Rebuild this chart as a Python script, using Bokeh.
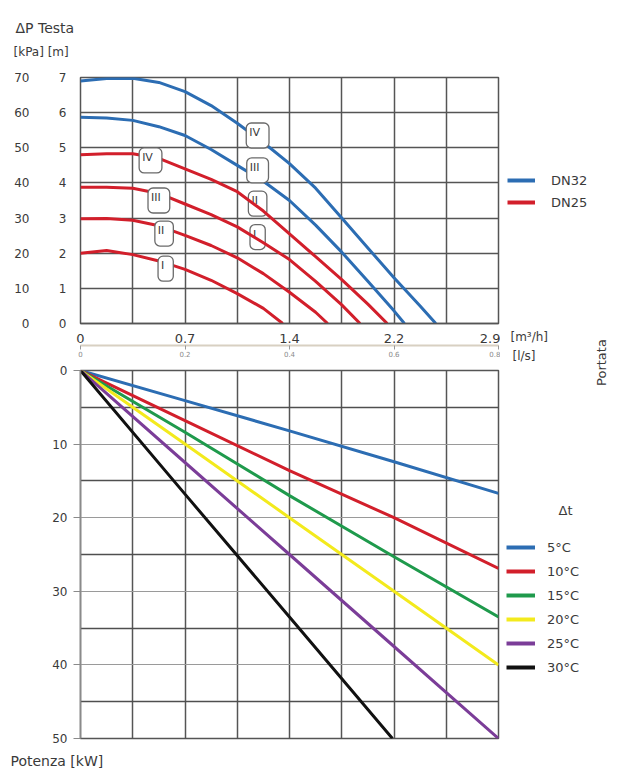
import math
from bokeh.plotting import figure
from bokeh.models import (Range1d, LinearAxis, FixedTicker, Legend, LegendItem, Label)
from bokeh.layouts import column, row
from bokeh.embed import file_html
from bokeh.resources import INLINE
from bokeh.core.properties import value

FONT = "DejaVu Sans"
TXT = "#3a3a3a"
GRID = "#555555"
NAN = float("nan")

# ---------------- data: pump curves (flow in l/s, head in kPa) ----------------
blue_iv_q = [0, 0.05, 0.10, 0.15, 0.20, 0.25, 0.30, 0.35, 0.40, 0.45, 0.50, 0.55, 0.60, 0.65, 0.68]
blue_iv_dp = [69.0, 69.7, 69.8, 68.6, 66.0, 62.0, 57.0, 51.5, 45.5, 38.5, 30.0, 21.5, 13.0, 5.0, 0.0]

blue_iii_q = [0, 0.05, 0.10, 0.15, 0.20, 0.25, 0.30, 0.35, 0.40, 0.45, 0.50, 0.55, 0.60, 0.62]
blue_iii_dp = [58.7, 58.5, 57.8, 56.0, 53.5, 49.5, 45.0, 40.5, 35.0, 28.0, 20.3, 12.0, 3.6, 0.0]

red_iv_q = [0, 0.05, 0.10, 0.15, 0.20, 0.25, 0.30, 0.35, 0.40, 0.45, 0.50, 0.55, 0.587]
red_iv_dp = [48.0, 48.3, 48.3, 47.0, 44.0, 41.0, 37.5, 32.0, 25.5, 19.0, 12.5, 5.5, 0.0]

red_iii_q = [0, 0.05, 0.10, 0.15, 0.20, 0.25, 0.30, 0.35, 0.40, 0.45, 0.50, 0.535]
red_iii_dp = [38.8, 38.8, 38.5, 37.0, 34.0, 31.0, 27.5, 23.0, 18.2, 12.0, 5.3, 0.0]

red_ii_q = [0, 0.05, 0.10, 0.15, 0.20, 0.25, 0.30, 0.35, 0.40, 0.45, 0.473]
red_ii_dp = [29.8, 29.9, 29.4, 27.8, 25.1, 22.2, 18.7, 14.2, 8.9, 3.2, 0.0]

red_i_q = [0, 0.05, 0.10, 0.15, 0.20, 0.25, 0.30, 0.35, 0.387]
red_i_dp = [20.0, 20.8, 19.6, 17.8, 15.4, 12.3, 8.5, 4.3, 0.0]

# curve labels (speed steps)
red_lab_txt = ["IV", "III", "II", "I"]
red_lab_q = [0.134, 0.150, 0.160, 0.163]
red_lab_dp = [46.4, 35.0, 25.6, 15.6]
blue_lab_txt = ["IV", "III", "II", "I"]
blue_lab_q = [0.339, 0.339, 0.339, 0.339]
blue_lab_dp = [53.5, 43.6, 34.1, 24.6]

# ---------------- data: power vs flow per delta-t ----------------
flow_ls = [0, 0.2, 0.4, 0.6, 0.8]
p_5 = [0, 4.1, 8.2, 12.4, 16.7]
p_10 = [0, 6.8, 13.6, 20.0, 26.9]
p_15 = [0, 8.4, 17.0, 25.3, 33.5]
p_20 = [0, 10.0, 20.0, 30.0, 40.0]
p_25 = [0, 12.5, 25.0, 37.5, 50.0]
flow_30 = [0, 0.2, 0.4, 0.597]
p_30 = [0, 16.8, 33.5, 50.0]
dt_labels = ["5°C", "10°C", "15°C", "20°C", "25°C", "30°C"]
pipe_labels = ["DN32", "DN25"]

# ---------------- axes ticks ----------------
ls_ticks = [0, 0.2, 0.4, 0.6, 0.8]
m3h_labels = ["0", "0.7", "1.4", "2.2", "2.9"]
kpa_ticks = [0, 10, 20, 30, 40, 50, 60, 70]
m_ticks = [0, 1, 2, 3, 4, 5, 6, 7]
kw_ticks = [0, 10, 20, 30, 40, 50]
x_grid = [0.1, 0.2, 0.3, 0.4, 0.5, 0.6, 0.7]

BLUE = "#2c6db3"
RED = "#d21f2b"
DT_COLORS = ["#2c6db3", "#d21f2b", "#1f9a4c", "#f3ea1d", "#7b3d98", "#111111"]

MAIN_W = 500
LEFT = 80


def blank(width, height):
    f = figure(width=width, height=height, x_range=Range1d(0, width), y_range=Range1d(height, 0),
               x_axis_location=None, y_axis_location=None, toolbar_location=None,
               output_backend="svg", min_border=0, outline_line_color=None,
               background_fill_color="white", border_fill_color="white",
               frame_align=False)
    f.grid.visible = False
    return f


lab_kw = dict(text_font=FONT, text_color=TXT, text_baseline="middle")


def style_axis(ax, size="12px", color=TXT):
    ax.major_label_text_font = FONT
    ax.major_label_text_font_size = size
    ax.major_label_text_color = color
    ax.minor_tick_line_color = None


# ================= header =================
header = blank(MAIN_W, 68)
header.add_layout(Label(x=15, y=27, text="ΔP Testa", text_font_size="14px", **lab_kw))
header.add_layout(Label(x=13, y=51, text="[kPa] [m]", text_font_size="12px", **lab_kw))

# ================= TOP CHART =================
top = figure(frame_width=418, frame_height=246, x_range=Range1d(0, 0.8), y_range=Range1d(0, 70),
             x_axis_location=None, y_axis_location=None, toolbar_location=None,
             output_backend="svg", min_border_left=LEFT, min_border_right=2,
             min_border_top=9, min_border_bottom=39,
             outline_line_color=GRID, outline_line_width=1.5,
             background_fill_color="white", border_fill_color="white")
top.extra_y_ranges = {"m": Range1d(0, 7)}

top.xgrid.ticker = FixedTicker(ticks=x_grid)
top.ygrid.ticker = FixedTicker(ticks=kpa_ticks[1:-1])
top.grid.grid_line_color = GRID
top.grid.grid_line_width = 1.5

m_axis = LinearAxis(y_range_name="m", ticker=FixedTicker(ticks=m_ticks),
                    axis_line_color=None, major_tick_line_color=None,
                    major_tick_out=0, major_tick_in=0, major_label_standoff=14)
style_axis(m_axis)
top.add_layout(m_axis, "left")

kpa_axis = LinearAxis(ticker=FixedTicker(ticks=kpa_ticks),
                      axis_line_color=None, major_tick_line_color=None,
                      major_tick_out=0, major_tick_in=0, major_label_standoff=26)
style_axis(kpa_axis)
top.add_layout(kpa_axis, "left")

m3h_axis = LinearAxis(ticker=FixedTicker(ticks=ls_ticks),
                      major_label_overrides={t: l for t, l in zip(ls_ticks, m3h_labels)},
                      axis_line_color=GRID, axis_line_width=1.5,
                      major_tick_line_color=None, major_tick_out=0, major_tick_in=0,
                      major_label_standoff=10)
style_axis(m3h_axis, "13px")
top.add_layout(m3h_axis, "below")

ls_axis = LinearAxis(ticker=FixedTicker(ticks=ls_ticks),
                     axis_line_color="#d8d0c2", axis_line_width=2,
                     major_tick_line_color="#999999", major_tick_out=4, major_tick_in=0,
                     major_label_standoff=1)
style_axis(ls_axis, "7px", "#8a8a8a")
top.add_layout(ls_axis, "below")

top.line(blue_iv_q, blue_iv_dp, line_color=BLUE, line_width=3)
top.line(blue_iii_q, blue_iii_dp, line_color=BLUE, line_width=3)

box_kw = dict(text_font=value(FONT), text_font_size="11px", text_align="center",
              text_baseline="middle", text_color=TXT, background_fill_color="white",
              border_line_color="#6a6a6a", border_line_width=1.3,
              padding=(3, 9, 3, 9), border_radius=5)
top.text(x=blue_lab_q, y=blue_lab_dp, text=blue_lab_txt, **box_kw)

top.line(red_iv_q, red_iv_dp, line_color=RED, line_width=3)
top.line(red_iii_q, red_iii_dp, line_color=RED, line_width=3)
top.line(red_ii_q, red_ii_dp, line_color=RED, line_width=3)
top.line(red_i_q, red_i_dp, line_color=RED, line_width=3)
top.text(x=red_lab_q, y=red_lab_dp, text=red_lab_txt, **box_kw)

# ================= BOTTOM CHART =================
bot = figure(frame_width=418, frame_height=368, x_range=Range1d(0, 0.8), y_range=Range1d(50, 0),
             x_axis_location=None, y_axis_location="left", toolbar_location=None,
             output_backend="svg", min_border_left=LEFT, min_border_right=2,
             min_border_top=8, min_border_bottom=7,
             outline_line_color=GRID, outline_line_width=1.5,
             background_fill_color="white", border_fill_color="white")
bot.xgrid.ticker = FixedTicker(ticks=x_grid)
bot.xgrid.grid_line_color = GRID
bot.xgrid.grid_line_width = 1.5
bot.ygrid.ticker = FixedTicker(ticks=kw_ticks[1:-1], minor_ticks=[5, 15, 25, 35, 45])
bot.ygrid.grid_line_color = "#9a9a9a"
bot.ygrid.grid_line_width = 1.2
bot.ygrid.minor_grid_line_color = "#4f4f4f"
bot.ygrid.minor_grid_line_width = 1.6

bot.yaxis.ticker = FixedTicker(ticks=kw_ticks)
bot.yaxis.axis_line_color = "#8a8a8a"
bot.yaxis.axis_line_width = 1.5
bot.yaxis.major_tick_line_color = "#8a8a8a"
bot.yaxis.major_tick_out = 7
bot.yaxis.major_tick_in = 0
bot.yaxis.major_label_standoff = 6
style_axis(bot.yaxis[0])

series = [(flow_ls, p_5), (flow_ls, p_10), (flow_ls, p_15), (flow_ls, p_20),
          (flow_ls, p_25), (flow_30, p_30)]
for (fx, py), col in zip(series, DT_COLORS):
    bot.line(fx, py, line_color=col, line_width=3)

# ================= footer =================
footer = blank(MAIN_W, 26)
footer.add_layout(Label(x=10, y=15, text="Potenza [kW]", text_font_size="14px", **lab_kw))

# ================= right side: legends and unit labels =================
SIDE_W = 122
SIDE_H = 68 + 294 + 383 + 26
side = blank(SIDE_W, SIDE_H)

leg_kw = dict(padding=0, margin=0, border_line_color=None, background_fill_alpha=0,
              label_text_font=FONT, label_text_font_size="13px", label_text_color=TXT)

pipe_items = []
for lab, col in zip(pipe_labels, [BLUE, RED]):
    r = side.line(x=[NAN], y=[NAN], line_color=col, line_width=4)
    pipe_items.append(LegendItem(label=lab, renderers=[r]))
side.add_layout(Legend(items=pipe_items, location=(7, SIDE_H - 210), glyph_width=28,
                       glyph_height=16, label_height=16, label_standoff=16, spacing=6,
                       **leg_kw))

dt_items = []
for lab, col in zip(dt_labels, DT_COLORS):
    r = side.line(x=[NAN], y=[NAN], line_color=col, line_width=4)
    dt_items.append(LegendItem(label=lab, renderers=[r]))
side.add_layout(Legend(items=dt_items, location=(6, SIDE_H - 675), glyph_width=29,
                       glyph_height=16, label_height=16, label_standoff=12, spacing=8,
                       **leg_kw))

side.add_layout(Label(x=10, y=336, text="[m³/h]", text_font_size="12px", **lab_kw))
side.add_layout(Label(x=12, y=355, text="[l/s]", text_font_size="12px", **lab_kw))
side.add_layout(Label(x=65, y=510, text="Δt", text_font_size="13px",
                      text_align="center", **lab_kw))
side.add_layout(Label(x=101, y=362, text="Portata", angle=math.pi / 2,
                      text_align="center", text_font_size="13px", **lab_kw))

layout = row(column(header, top, bot, footer), side)
open("out.html", "w").write(file_html(layout, INLINE))
